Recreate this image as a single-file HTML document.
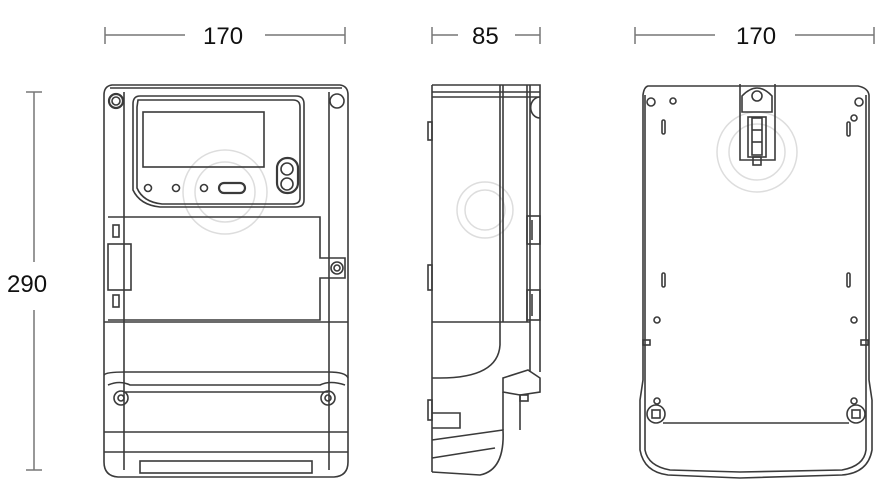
<!DOCTYPE html>
<html><head><meta charset="utf-8"><style>
html,body{margin:0;padding:0;background:#fff}
svg{display:block}
text{font-family:"Liberation Sans",sans-serif;font-size:24px;fill:#111}
</style></head><body>
<svg width="884" height="500" viewBox="0 0 884 500" xmlns="http://www.w3.org/2000/svg">
<g stroke="#777" stroke-width="1.5" fill="none">
<line x1="105" y1="35" x2="185" y2="35"/><line x1="265" y1="35" x2="345" y2="35"/>
<line x1="105" y1="27" x2="105" y2="44"/><line x1="345" y1="27" x2="345" y2="44"/>
<line x1="432" y1="35" x2="458" y2="35"/><line x1="515" y1="35" x2="540" y2="35"/>
<line x1="432" y1="27" x2="432" y2="44"/><line x1="540" y1="27" x2="540" y2="44"/>
<line x1="635" y1="35" x2="715" y2="35"/><line x1="795" y1="35" x2="874" y2="35"/>
<line x1="635" y1="27" x2="635" y2="44"/><line x1="874" y1="27" x2="874" y2="44"/>
<line x1="34" y1="92" x2="34" y2="262"/><line x1="34" y1="310" x2="34" y2="470"/>
<line x1="26" y1="92" x2="42" y2="92"/><line x1="26" y1="470" x2="42" y2="470"/>
</g>
<text x="203" y="44">170</text>
<text x="472" y="44">85</text>
<text x="736" y="44">170</text>
<text x="7" y="292">290</text>

<!-- watermarks -->
<g stroke="#ddd" stroke-width="1.5" fill="none">
<circle cx="225" cy="192" r="42"/><circle cx="225" cy="192" r="30"/>
<circle cx="485" cy="210" r="28"/><circle cx="485" cy="210" r="20"/>
<circle cx="757" cy="152" r="40"/><circle cx="757" cy="152" r="28"/>
</g>

<!-- FRONT -->
<g stroke="#3a3a3a" stroke-width="1.6" fill="none">
<path d="M112 85 H340 Q348 86 348 95 V462 Q348 476 334 477 H118 Q104 476 104 462 V95 Q104 86 112 85 Z"/>
<line x1="124" y1="92" x2="124" y2="470"/><line x1="329" y1="92" x2="329" y2="470"/>
<line x1="110" y1="88" x2="342" y2="88"/>
<path d="M140 96 H296 Q304 96 304 104 V200 Q304 207 296 207 H160 Q140 205 133 190 V104 Q133 96 140 96 Z"/>
<path d="M138 100 H293 Q300 100 300 107 V198 Q300 204 292 204 H162 Q143 202 137 188 V107 Z"/>
<rect x="143" y="112" width="121" height="55"/>
<circle cx="148" cy="188" r="3.5"/><circle cx="176" cy="188" r="3.5"/><circle cx="204" cy="188" r="3.5"/>
<rect x="219" y="183" width="26" height="10" rx="5" stroke-width="2.2"/>
<rect x="277" y="158" width="21" height="35" rx="10" stroke-width="2.2"/>
<circle cx="287" cy="169" r="6"/><circle cx="287" cy="184" r="6"/>
<circle cx="116" cy="101" r="7" stroke-width="2.2"/><circle cx="116" cy="101" r="4"/>
<circle cx="337" cy="101" r="7"/>
<path d="M108 217 H320 V258 H345 V278 H320 V320 H108"/>
<rect x="108" y="244" width="23" height="46"/>
<rect x="113" y="225" width="6" height="12"/><rect x="113" y="295" width="6" height="12"/>
<circle cx="337" cy="268" r="6"/><circle cx="337" cy="268" r="3"/>
<line x1="104" y1="322" x2="348" y2="322"/>
<path d="M104 375 Q106 372 125 372 H328 Q346 372 348 378"/>
<path d="M108 385 Q120 380 130 385 H320 Q330 380 345 385"/>
<line x1="125" y1="392" x2="328" y2="392"/>
<circle cx="121" cy="398" r="7"/><circle cx="121" cy="398" r="3"/>
<circle cx="328" cy="398" r="7"/><circle cx="328" cy="398" r="3"/>
<line x1="104" y1="432" x2="348" y2="432"/>
<line x1="104" y1="452" x2="348" y2="452"/>
<rect x="140" y="461" width="172" height="12"/>
</g>

<!-- SIDE -->
<g stroke="#3a3a3a" stroke-width="1.6" fill="none">
<path d="M432 85 H540 V372"/>
<line x1="432" y1="85" x2="432" y2="472"/>
<line x1="432" y1="92" x2="540" y2="92"/><line x1="432" y1="97" x2="540" y2="97"/>
<line x1="500" y1="85" x2="500" y2="322"/><line x1="503" y1="85" x2="503" y2="322"/>
<line x1="527" y1="85" x2="527" y2="322"/><line x1="530" y1="85" x2="530" y2="372"/>
<path d="M540 97 A8 9 0 0 0 540 118"/>
<rect x="527" y="216" width="13" height="28"/><line x1="532" y1="220" x2="532" y2="240"/>
<rect x="527" y="290" width="13" height="30"/><line x1="532" y1="294" x2="532" y2="316"/>
<line x1="432" y1="322" x2="530" y2="322"/>
<path d="M500 322 V345 Q498 378 440 378 H432"/>
<path d="M503 378 L528 370 L540 378 V392 L520 395 L503 392 Z"/>
<line x1="503" y1="392" x2="503" y2="430"/><line x1="520" y1="395" x2="520" y2="430"/>
<rect x="520" y="395" width="8" height="6"/>
<path d="M432 413 H460 V428 H432"/>
<path d="M432 440 L503 430 Q505 470 480 475 L432 472"/>
<path d="M432 458 L495 448"/>
<rect x="428" y="122" width="4" height="18"/><rect x="428" y="265" width="4" height="25"/><rect x="428" y="400" width="4" height="20"/>
</g>

<!-- BACK -->
<g stroke="#3a3a3a" stroke-width="1.6" fill="none">
<path d="M648 86 H858 Q868 88 869 95 V380 L872 400 V450 Q868 473 842 475 L740 478 L668 475 Q644 472 640 450 V400 L643 380 V95 Q644 87 648 86 Z"/>
<path d="M645 95 V450 Q648 466 670 470 L740 472 L842 470 Q864 466 866 450 V95"/>
<circle cx="651" cy="102" r="4"/><circle cx="673" cy="101" r="3"/>
<circle cx="859" cy="102" r="4"/><circle cx="854" cy="118" r="3"/>
<rect x="662" y="120" width="3" height="14" rx="1.5"/><rect x="847" y="122" width="3" height="14" rx="1.5"/>
<rect x="662" y="273" width="3" height="14" rx="1.5"/><rect x="847" y="273" width="3" height="14" rx="1.5"/>
<circle cx="657" cy="320" r="3"/><circle cx="854" cy="320" r="3"/>
<rect x="643" y="340" width="7" height="5"/><rect x="861" y="340" width="7" height="5"/>
<circle cx="657" cy="401" r="3"/><circle cx="854" cy="401" r="3"/>
<circle cx="656" cy="414" r="9"/><rect x="652" y="410" width="8" height="8"/>
<circle cx="856" cy="414" r="9"/><rect x="852" y="410" width="8" height="8"/>
<line x1="663" y1="423" x2="849" y2="423"/>
<path d="M740 84 V160 H775 V84"/>
<path d="M742 96 Q757 80 772 96 V112 H742 Z"/>
<circle cx="757" cy="96" r="5"/>
<rect x="748" y="117" width="18" height="40"/>
<rect x="752" y="118" width="10" height="37"/>
<line x1="752" y1="130" x2="762" y2="130"/><line x1="752" y1="142" x2="762" y2="142"/>
<rect x="753" y="157" width="8" height="8"/>
</g>
</svg>
</body></html>
